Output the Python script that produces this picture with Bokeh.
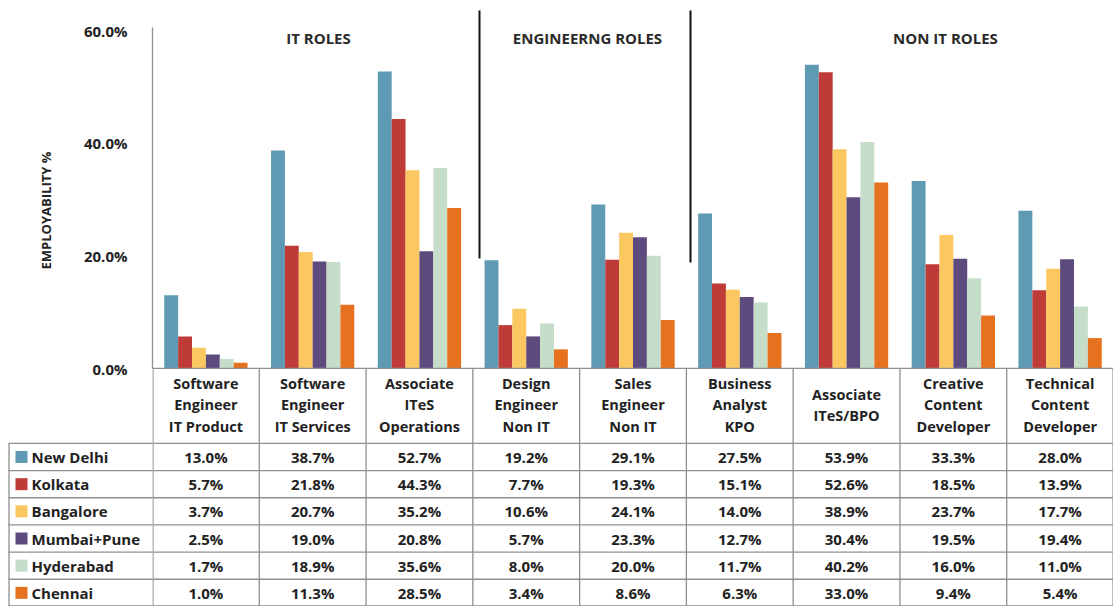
import math
from bokeh.plotting import figure
from bokeh.models import (FactorRange, Range1d, FixedTicker, PrintfTickFormatter,
                          ColumnDataSource)
from bokeh.transform import dodge
from bokeh.core.properties import value
from bokeh.embed import file_html
from bokeh.resources import INLINE

# ---------------- data ----------------
categories = ["Software Engineer IT Product", "Software Engineer IT Services",
              "Associate ITeS Operations", "Design Engineer Non IT",
              "Sales Engineer Non IT", "Business Analyst KPO",
              "Associate ITeS/BPO", "Creative Content Developer",
              "Technical Content Developer"]
header_labels = ["Software\nEngineer\nIT Product", "Software\nEngineer\nIT Services",
                 "Associate\nITeS\nOperations", "Design\nEngineer\nNon IT",
                 "Sales\nEngineer\nNon IT", "Business\nAnalyst\nKPO",
                 "Associate\nITeS/BPO", "Creative\nContent\nDeveloper",
                 "Technical\nContent\nDeveloper"]
cities = ["New Delhi", "Kolkata", "Bangalore", "Mumbai+Pune", "Hyderabad", "Chennai"]
new_delhi = [13.0, 38.7, 52.7, 19.2, 29.1, 27.5, 53.9, 33.3, 28.0]
kolkata = [5.7, 21.8, 44.3, 7.7, 19.3, 15.1, 52.6, 18.5, 13.9]
bangalore = [3.7, 20.7, 35.2, 10.6, 24.1, 14.0, 38.9, 23.7, 17.7]
mumbai_pune = [2.5, 19.0, 20.8, 5.7, 23.3, 12.7, 30.4, 19.5, 19.4]
hyderabad = [1.7, 18.9, 35.6, 8.0, 20.0, 11.7, 40.2, 16.0, 11.0]
chennai = [1.0, 11.3, 28.5, 3.4, 8.6, 6.3, 33.0, 9.4, 5.4]
groups = ["IT ROLES", "ENGINEERNG ROLES", "NON IT ROLES"]
y_ticks = [0, 20, 40, 60]
y_axis_title = "EMPLOYABILITY %"

series = [new_delhi, kolkata, bangalore, mumbai_pune, hyderabad, chennai]
colors = ["#5E9AB3", "#BE3B38", "#FAC760", "#5E4B7E", "#C6DDC9", "#E6711F"]

# ---------------- layout constants ----------------
FONT = "Open Sans"
TXT = "#222222"
GRID = "#8f8f8f"
W, H = 1113, 606
LEFT = 152
NCOL = len(categories)
COL_PX = (W - LEFT) / NCOL
ZERO_Y = 368                      # page y of 0 %
PX_PER = (ZERO_Y - 30) / 60.0     # px per percentage point
Y_END = ZERO_Y / PX_PER
Y_START = -(H - ZERO_Y) / PX_PER
ROW0 = 443                        # page y of first data row top
ROW_H = (H - ROW0) / 6.0
T_START = (H - ROW0) / ROW_H + 0.003
T_END = -ROW0 / ROW_H
HEAD_TOP = (ZERO_Y - ROW0) / ROW_H
EDGE = 0.0005                     # anchor just inside the frame for left-border texts


def sx(px):
    """page x -> categorical synthetic coordinate"""
    return (px - LEFT) / COL_PX


def sy(py):
    """page y -> percentage coordinate"""
    return (ZERO_Y - py) / PX_PER


p = figure(width=W, height=H,
           x_range=FactorRange(factors=categories, range_padding=0),
           y_range=Range1d(Y_START, Y_END),
           output_backend="svg", toolbar_location=None,
           x_axis_location=None,
           min_border_left=LEFT, min_border_right=0,
           min_border_top=0, min_border_bottom=0)
p.extra_y_ranges = {"tbl": Range1d(T_START, T_END)}
p.outline_line_color = None
p.xgrid.grid_line_color = None
p.ygrid.grid_line_color = None

ax = p.yaxis[0]
ax.ticker = FixedTicker(ticks=y_ticks)
ax.formatter = PrintfTickFormatter(format="%.1f%%")
ax.bounds = (0, 60.6)
ax.axis_line_color = GRID
ax.axis_line_width = 1.3
ax.major_tick_line_color = None
ax.minor_tick_line_color = None
ax.major_label_standoff = 19
ax.major_label_text_font = FONT
ax.major_label_text_font_style = "bold"
ax.major_label_text_font_size = "15px"
ax.major_label_text_color = TXT

# y-axis title (in the left border, anchored at the frame edge and offset)
p.text(x=[EDGE], y=[sy(210)], x_offset=[45 - LEFT], text=[y_axis_title],
       angle=math.pi / 2, text_align="center", text_baseline="middle",
       text_font=value(FONT), text_font_style="bold", text_font_size="13px",
       text_color=TXT, level="overlay")

# ---------------- bars ----------------
data = {"cat": categories}
for name, vals in zip(cities, series):
    data[name] = vals
src = ColumnDataSource(data)

BW = 0.13
for k, (name, col) in enumerate(zip(cities, colors)):
    p.vbar(x=dodge("cat", (k - 2.5) * BW, range=p.x_range), top=name, bottom=0,
           width=BW, source=src, fill_color=col, line_color=None)

# ---------------- group labels / separators ----------------
group_x = [sx(318), sx(587), sx(945)]
p.text(x=group_x, y=[sy(37)] * 3, text=groups, text_align="center",
       text_baseline="middle", text_font=value(FONT), text_font_style="bold",
       text_font_size="15px", text_color="#2a2a2a")
sep_x = [sx(479), sx(690)]
p.segment(x0=sep_x, y0=[sy(10)] * 2, x1=sep_x, y1=[sy(258), sy(262)],
          line_color="#111111", line_width=2)

# ---------------- table ----------------
nrow = len(cities)
hl = [HEAD_TOP] + [float(r) for r in range(nrow)] + [nrow - 0.02]
p.segment(x0=[0] * len(hl), y0=hl, x1=[NCOL] * len(hl), y1=hl,
          line_color=GRID, line_width=1.3, y_range_name="tbl")
hl2 = [float(r) for r in range(nrow)] + [nrow - 0.02]
p.segment(x0=[sx(8)] * len(hl2), y0=hl2, x1=[0] * len(hl2), y1=hl2,
          line_color=GRID, line_width=1.3, y_range_name="tbl", level="overlay")
p.segment(x0=[sx(8.5)], y0=[0], x1=[sx(8.5)], y1=[nrow],
          line_color=GRID, line_width=1.3, y_range_name="tbl", level="overlay")
vx = [0.004] + [float(i) for i in range(1, NCOL)] + [NCOL - 0.004]
p.segment(x0=vx, y0=[HEAD_TOP] * len(vx), x1=vx, y1=[nrow] * len(vx),
          line_color=GRID, line_width=1.3, y_range_name="tbl")

# header labels
hy = (404.5 - ROW0) / ROW_H
p.text(x=categories, y=[hy] * NCOL, text=header_labels, y_range_name="tbl",
       text_align="center", text_baseline="middle",
       text_font=value(FONT), text_font_style="bold", text_font_size="14.5px",
       text_color=TXT, text_line_height=1.12)

row_y = [r + 0.5 for r in range(nrow)]
# legend colour keys (short thick segments)
p.segment(x0=[sx(15)] * nrow, y0=row_y, x1=[sx(27)] * nrow, y1=row_y,
          line_color=colors, line_width=12, line_cap="butt",
          y_range_name="tbl", level="overlay")
p.text(x=[EDGE] * nrow, y=row_y, x_offset=[31 - LEFT] * nrow, text=cities,
       y_range_name="tbl", text_align="left", text_baseline="middle",
       text_font=value(FONT), text_font_style="bold", text_font_size="15px",
       text_color=TXT, level="overlay")

vx_txt, vy_txt, vtxt = [], [], []
for r, vals in enumerate(series):
    for i, v in enumerate(vals):
        vx_txt.append(i + 0.5)
        vy_txt.append(r + 0.5)
        vtxt.append("%.1f%%" % v)
p.text(x=vx_txt, y=vy_txt, text=vtxt, y_range_name="tbl",
       text_align="center", text_baseline="middle",
       text_font=value(FONT), text_font_style="bold", text_font_size="15px",
       text_color=TXT)

open("out.html", "w").write(file_html(p, INLINE))
